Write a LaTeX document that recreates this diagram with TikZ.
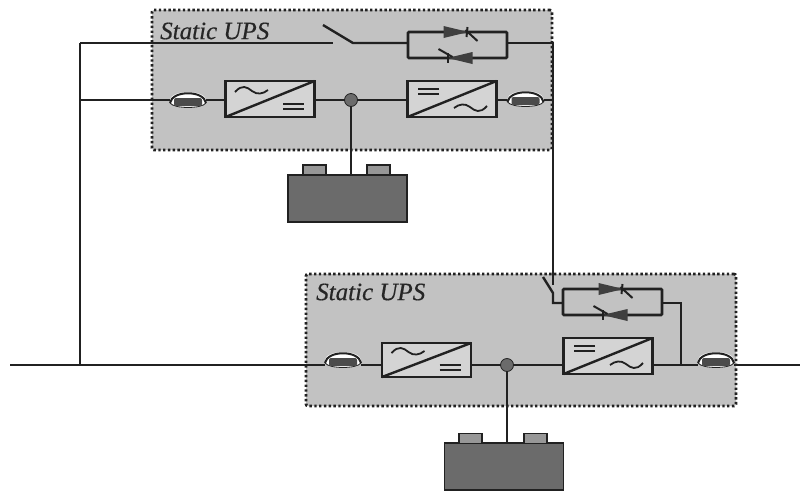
\documentclass[tikz,border=0pt]{standalone}
\usepackage{fontspec}
\setmainfont[ItalicFeatures={FakeBold=0.5}]{Liberation Serif}
\definecolor{wire}{gray}{0.13}
\definecolor{panel}{gray}{0.76}
\definecolor{bank}{gray}{0.42}
\tikzset{
  wireline/.style={draw=wire, line width=2.4pt},
  upsbox/.style={draw=wire, fill=panel, line width=2.8pt, dash pattern=on 2.4pt off 2.4pt, rounded corners=2pt},
  upslabel/.style={font=\itshape\fontsize{25}{25}\selectfont, text=black!85, inner sep=0pt, anchor=west},
  convbox/.style={draw=wire, line width=2.6pt, fill=panel!70, minimum width=89pt, minimum height=36pt, inner sep=0pt, outer sep=0pt},
  thybox/.style={draw=wire, line width=2.6pt, rounded corners=1pt, minimum width=99pt, minimum height=26pt, inner sep=0pt, outer sep=0pt},
  bankbox/.style={draw=wire, fill=bank, line width=1.5pt, inner sep=0pt, outer sep=0pt, minimum width=119pt, minimum height=47pt},
  bankpost/.style={draw=wire, fill=bank!70!white, line width=1.5pt, inner sep=0pt, outer sep=0pt, minimum width=23pt, minimum height=10pt},
  joint/.style={circle, draw=wire, fill=bank, line width=0.8pt, minimum size=13pt, inner sep=0pt, outer sep=0pt},
  breakerbox/.style={inner sep=0pt, outer sep=0pt, minimum width=36pt, minimum height=16pt},
  acdc/.pic={
    \draw[wire, line width=1.8pt] (-35,-7) .. controls (-28,-15) and (-23,-12) .. (-18,-8) .. controls (-13,-4) and (-7,-5) .. (-2,-9);
    \draw[wire, line width=2pt] (13,5) -- (34,5);
    \draw[wire, line width=2pt] (13,10) -- (34,10);
  },
  breakersym/.pic={
    \fill[white] (0,0) ellipse [x radius=18, y radius=8];
    \draw[wire, line width=2pt] (-18,3) .. controls (-16,-10) and (16,-10) .. (18,3);
    \draw[wire, line width=0.8pt] (-18,3) .. controls (-14,9) and (14,9) .. (18,3);
    \fill[bank!70!black, rounded corners=2pt] (-14,-2) rectangle (14,6);
  },
  thyup/.pic={
    \fill[wire!60!bank] (-14,-19) -- (11,-13) -- (-14,-7) -- cycle;
    \draw[wire, line width=2pt] (10,-18) -- (9,-8);
    \draw[wire, line width=2pt] (8,-15) -- (20,-4);
  },
  thydown/.pic={
    \fill[wire!60!bank] (15,7) -- (-10,13) -- (15,19) -- cycle;
    \draw[wire, line width=2pt] (-10,8) -- (-10,18);
    \draw[wire, line width=2pt] (-19,4) -- (-5,12);
  },
}
\begin{document}
\begin{tikzpicture}[x=1pt, y=-1pt]
\useasboundingbox (0,0) rectangle (811,491);
% panels
\node[upsbox, minimum width=400pt, minimum height=140pt, inner sep=0pt] (upsA) at (352,80) {};
\node[upsbox, minimum width=430pt, minimum height=132pt, inner sep=0pt] (upsB) at (521,340) {};
\node[upslabel] (labelA) at (160,31) {Static UPS};
\node[upslabel] (labelB) at (316,292) {Static UPS};
% free ends
\coordinate (mainL) at (10,365);
\coordinate (mainR) at (800,365);
\coordinate (busT) at (80,43);
\coordinate (busM) at (80,100);
\coordinate (busB) at (80,365);
\coordinate (swAin) at (333,43);
\coordinate (swAout) at (353,43);
\coordinate (swAblade) at (323,25);
\coordinate (cornerA) at (553,43);
\coordinate (swBin) at (553,285);
\coordinate (swBblade) at (543,277);
\coordinate (swBhinge) at (553,293);
\coordinate (swBout) at (553,303);
\coordinate (cornerB) at (681,303);
\coordinate (tapB) at (681,365);
% top unit
\node[convbox] (rectA) at (270,99) {};
\node[convbox] (invA) at (452,99) {};
\node[thybox] (thyA) at (457.5,45) {};
\node[breakerbox] (brkA) at (188,100) {};
\node[breakerbox] (brkAout) at (525.5,99) {};
\node[joint] (dotA) at (351,100) {};
\node[bankbox] (bankA) at (347.5,198.5) {};
\node[bankpost] (postA) at (314.5,170) {};
\node[bankpost] (postAr) at (378.5,170) {};
% bottom unit
\node[convbox, minimum height=34pt] (rectB) at (426.5,360) {};
\node[convbox] (invB) at (608,356) {};
\node[thybox] (thyB) at (612.5,302) {};
\node[breakerbox] (brkB) at (343,360) {};
\node[breakerbox] (brkBout) at (716,360) {};
\node[joint] (dotB) at (507,365) {};
\node[bankbox] (bankB) at (504,466.5) {};
\node[bankpost] (postB) at (470.5,438.5) {};
\node[bankpost] (postBr) at (535.5,438.5) {};
% connectors
\draw[wireline] (busT) -- (busB);
\draw[wireline] (busT) -- (swAin);
\draw[wireline] (busM) -- (brkA.west |- busM);
\draw[wireline] (mainL) -- (brkB.west |- mainL);
\draw[wireline] (brkB.east |- mainL) -- (rectB.west |- mainL);
\draw[wireline] (rectB.east |- mainL) -- (dotB);
\draw[wireline] (dotB) -- (invB.west |- mainL);
\draw[wireline] (invB.east |- mainL) -- (brkBout.west |- mainL);
\draw[wireline] (brkBout.east |- mainL) -- (mainR);
\draw[wireline] (brkA.east |- busM) -- (rectA.west |- busM);
\draw[wireline] (rectA.east |- busM) -- (dotA);
\draw[wireline] (dotA) -- (invA.west |- busM);
\draw[wireline] (invA.east |- busM) -- (brkAout.west |- busM);
\draw[wireline] (brkAout.east |- busM) -- (cornerA |- busM);
\draw[wireline] (dotA) -- (dotA |- bankA.north);
\draw[wireline] (dotB) -- (dotB |- bankB.north);
\draw[wireline] (swAblade) -- (swAout) -- (thyA.west |- swAout);
\draw[wireline] (thyA.east |- cornerA) -- (cornerA) -- (swBin);
\draw[wireline] (swBblade) -- (swBhinge) -- (swBout) -- (thyB.west |- swBout);
\draw[wireline] (thyB.east |- cornerB) -- (cornerB) -- (tapB);
% symbols
\foreach \conv in {rectA,rectB,invA,invB}
  \draw[wireline] (\conv.south west) -- (\conv.north east);
\pic at (rectA) {acdc};
\pic at (rectB) {acdc};
\pic[rotate=180] at (invA) {acdc};
\pic[rotate=180] at (invB) {acdc};
\pic at (thyA) {thyup};
\pic at (thyA) {thydown};
\pic at (thyB) {thyup};
\pic at (thyB) {thydown};
\pic at (brkA) {breakersym};
\pic at (brkAout) {breakersym};
\pic at (brkB) {breakersym};
\pic at (brkBout) {breakersym};
\end{tikzpicture}
\end{document}
